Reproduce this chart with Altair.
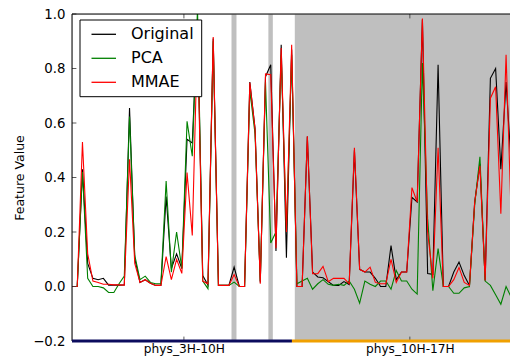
import altair as alt
import pandas as pd

# ---- data -------------------------------------------------------------
original = [0.0, 0.0, 0.43, 0.085, 0.03, 0.025, 0.03, 0.005, 0.005, 0.005,
            0.006, 0.655, 0.103, 0.015, 0.025, 0.012, 0.004, 0.004, 0.33, 0.066,
            0.12, 0.066, 0.54, 0.527, 0.97, 0.04, 0.005, 0.91, 0.004, 0.004,
            0.004, 0.071, 0.0, 0.0, 0.75, 0.58, 0.015, 0.77, 0.814, 0.13,
            0.887, 0.106, 0.87, 0.0, 0.0, 0.55, 0.053, 0.035, 0.032, 0.018,
            0.004, 0.004, 0.018, 0.007, 0.5, 0.063, 0.053, 0.053, 0.03, 0.0,
            0.0, 0.15, 0.025, 0.053, 0.053, 0.327, 0.31, 0.98, 0.048, 0.045,
            0.814, 0.0, 0.0, 0.053, 0.09, 0.04, 0.004, 0.31, 0.45, 0.022,
            0.764, 0.8, 0.43, 0.75, 0.44, 0.855]
pca = [0.0, 0.0, 0.42, 0.03, 0.0, 0.0, -0.005, -0.022, -0.022, 0.01,
       0.038, 0.624, 0.114, 0.025, 0.038, 0.015, 0.01, 0.01, 0.387, 0.053,
       0.2, 0.066, 0.606, 0.478, 1.02, 0.02, -0.008, 0.9, 0.004, 0.004,
       0.004, 0.016, 0.0, 0.0, 0.72, 0.56, 0.02, 0.75, 0.16, 0.2,
       0.85, 0.2, 0.85, 0.01, 0.02, 0.03, -0.01, 0.01, 0.025, 0.008,
       0.004, 0.008, 0.004, 0.02, -0.01, -0.061, 0.02, 0.008, 0.0, 0.02,
       0.02, -0.01, 0.059, 0.02, 0.02, -0.01, -0.028, 0.82, 0.25, -0.015,
       0.139, 0.0, 0.0, -0.025, -0.025, -0.005, 0.0, 0.3, 0.476, 0.02,
       0.004, -0.03, -0.065, 0.0, -0.04, -0.01]
mmae = [0.0, 0.0, 0.53, 0.12, 0.02, 0.015, 0.008, 0.008, 0.006, 0.006,
        0.005, 0.467, 0.085, 0.015, 0.025, 0.012, 0.004, 0.004, 0.11, 0.025,
        0.1, 0.048, 0.418, 0.187, 0.93, 0.02, 0.01, 0.916, 0.004, 0.004,
        0.004, 0.044, 0.0, 0.0, 0.748, 0.577, 0.01, 0.78, 0.777, 0.14,
        0.875, 0.2, 0.887, 0.0, 0.0, 0.551, 0.047, 0.047, 0.074, 0.018,
        0.03, 0.03, 0.03, 0.01, 0.509, 0.063, 0.053, 0.071, 0.015, 0.01,
        0.01, 0.1, 0.015, 0.053, 0.053, 0.363, 0.31, 0.983, 0.2, 0.03,
        0.509, 0.0, 0.0, 0.025, 0.07, 0.015, 0.004, 0.31, 0.443, 0.022,
        0.691, 0.733, 0.267, 0.85, 0.24, 0.78]

series_names = ["Original", "PCA", "MMAE"]
series_colors = ["#000000", "#008000", "#ff0000"]
series_values = [original, pca, mmae]

group_labels = ["phys_3H-10H", "phys_10H-17H"]
group_tick_pos = [21.4, 64.6]
group_start = [0.0, 42.05]
group_end = [42.05, 86.5]
group_bar_colors = ["#0c0c5e", "#f0a000"]

shade_start = [42.6]
shade_end = [86.5]
band_start = [30.5, 37.55]
band_end = [31.45, 38.4]

y_ticks = [-0.2, 0.0, 0.2, 0.4, 0.6, 0.8, 1.0]
X_VIEW_MAX = 83.75          # visible part of the index axis
Y_MIN, Y_MAX = -0.2, 1.0

# ---- tables --------------------------------------------------------------
rows = []
for name, vals in zip(series_names, series_values):
    for i, v in enumerate(vals):
        rows.append({"idx": i, "value": v, "series": name})
df = pd.DataFrame(rows)

df_shade = pd.DataFrame({"s": shade_start + band_start, "e": shade_end + band_end})
df_groups = pd.DataFrame({"s": group_start, "e": group_end, "name": group_labels})
df_yt = pd.DataFrame({"v": y_ticks})
df_xt = pd.DataFrame({"p": group_tick_pos})
df_one = pd.DataFrame({"a": [0]})
df_leg = pd.DataFrame({"name": series_names, "row": list(range(len(series_names)))})

W, H = 438, 327
FONT = "DejaVu Sans"
TICK_LEN = 4.4

xs = alt.Scale(domain=[0, X_VIEW_MAX], nice=False, zero=False)
ys = alt.Scale(domain=[Y_MIN, Y_MAX], nice=False, zero=False)

label_expr = f"datum.value < {group_start[1]} ? '{group_labels[0]}' : '{group_labels[1]}'"
xaxis = alt.Axis(values=group_tick_pos, labelExpr=label_expr, ticks=False, tickSize=0,
                 domain=False, grid=False, labelFontSize=12.2, labelPadding=1,
                 labelFont=FONT, labelColor="black", labelBaseline="top", title=None)
yaxis = alt.Axis(values=y_ticks, format=".1f", ticks=False, tickSize=0, domain=False,
                 grid=False, labelFontSize=13.3, labelPadding=7, labelFont=FONT,
                 labelColor="black", title="Feature Value", titleFontSize=12.5,
                 titleFont=FONT, titleColor="black", titleFontWeight="normal",
                 titlePadding=6)


def X(field):
    return alt.X(field, type="quantitative", scale=xs, axis=xaxis)


def Y(field):
    return alt.Y(field, type="quantitative", scale=ys, axis=yaxis)


series_color = alt.Color("series:N",
                         scale=alt.Scale(domain=series_names, range=series_colors),
                         legend=None)

shade = alt.Chart(df_shade).mark_rect(color="#bfbfbf", clip=True).encode(
    x=X("s"), x2="e", y=alt.datum(Y_MIN, scale=ys, axis=yaxis), y2=alt.datum(Y_MAX)
)

lines = []
for name in series_names:
    lines.append(
        alt.Chart(df[df.series == name]).mark_line(strokeWidth=1.1, clip=True).encode(
            x=X("idx"), y=Y("value"), color=series_color
        )
    )

tick_color = "#333333"
yt_left = alt.Chart(df_yt).mark_rule(color=tick_color, strokeWidth=0.8).encode(
    y=Y("v"), x=alt.value(0), x2=alt.value(TICK_LEN))
xt_top = alt.Chart(df_xt).mark_rule(color=tick_color, strokeWidth=0.8).encode(
    x=X("p"), y=alt.value(0), y2=alt.value(TICK_LEN))
xt_bot = alt.Chart(df_xt).mark_rule(color=tick_color, strokeWidth=0.8).encode(
    x=X("p"), y=alt.value(H - TICK_LEN), y2=alt.value(H))

# axes frame (its right side lies beyond the visible page, as in the reference)
frame = alt.Chart(df_one).mark_rect(filled=False, stroke="black", strokeWidth=1).encode(
    x=alt.value(0), x2=alt.value(W + 20), y=alt.value(0), y2=alt.value(H))

gbars = alt.Chart(df_groups).mark_rule(strokeWidth=3).encode(
    x=X("s"), x2="e", y=alt.datum(Y_MIN),
    stroke=alt.Stroke("name:N", scale=alt.Scale(domain=group_labels, range=group_bar_colors),
                      legend=None))

main = alt.layer(shade, *lines, yt_left, xt_top, xt_bot, frame, gbars)

# ---- legend box (upper left, matplotlib style) ---------------------------
leg_y = alt.Y("row:Q", scale=alt.Scale(domain=[0, len(series_names) - 1], range=[20.3, 68.3]),
              axis=None)
leg_box = alt.Chart(df_one).mark_rect(fill="white", stroke="black", strokeWidth=1).encode(
    x=alt.value(8), x2=alt.value(129.7), y=alt.value(6), y2=alt.value(82.7))
leg_lines = alt.Chart(df_leg).mark_rule(strokeWidth=1.3).encode(
    x=alt.value(19.5), x2=alt.value(44), y=leg_y,
    color=alt.Color("name:N", scale=alt.Scale(domain=series_names, range=series_colors),
                    legend=None))
leg_text = alt.Chart(df_leg).mark_text(align="left", baseline="middle", fontSize=16,
                                       font=FONT, color="black").encode(
    x=alt.value(59), y=leg_y, text="name:N")
legend_layer = alt.layer(leg_box, leg_lines, leg_text)

chart = alt.layer(main, legend_layer).resolve_scale(
    x="independent", y="independent"
).properties(
    width=W, height=H,
    padding={"left": 64, "top": 6, "right": 0, "bottom": 15},
    autosize=alt.AutoSizeParams(type="none"),
).configure_view(stroke=None).configure(font=FONT)

chart.save("out.html", embed_options={"renderer": "svg", "actions": False})
